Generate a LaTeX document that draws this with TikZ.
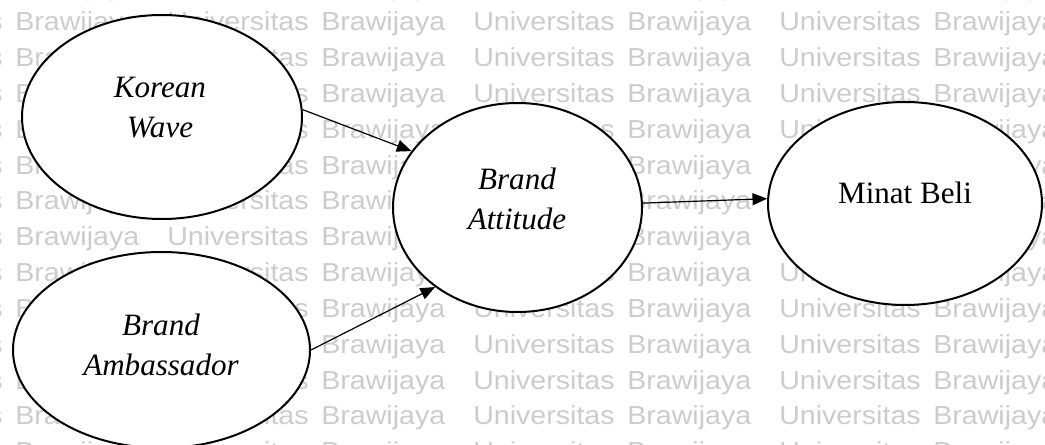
\documentclass[tikz,border=0pt]{standalone}
\usepackage{fontspec}
\setmainfont{Liberation Serif}
\newfontfamily\wmfont[FakeStretch=1.1]{Liberation Sans}
\usetikzlibrary{shapes.geometric,arrows.meta}
\tikzset{
  bubble/.style={ellipse,draw=black,line width=1.5pt,fill=white,inner sep=0pt},
  lbl/.style={font=\fontsize{23.3}{30}\selectfont,align=center,inner sep=0pt},
  wm/.style={font=\wmfont\fontsize{19.5}{20}\selectfont,text=black!20,anchor=base west,inner sep=0pt},
  arr/.style={line width=0.9pt,-{Triangle[length=11pt,width=9pt]}},
}
\begin{document}
\begin{tikzpicture}[x=0.75pt,y=-0.75pt]
\useasboundingbox (0,0) rectangle (1045,445);
\clip (0,0) rectangle (1045,445);
% watermark
\foreach \r in {-1,...,12}{
  \foreach \k in {0,1,2,3}{
    \node[wm] (u\r-\k) at ({779-306*\k},{31+35.8*\r}) {Universitas};
    \node[wm] (b\r-\k) at ({933-306*\k},{31+35.8*\r}) {Brawijaya};
  }
}
% ellipses
\node[bubble,minimum width=210pt,minimum height=153pt] (kw) at (162,117) {};
\node[bubble,minimum width=222.75pt,minimum height=147pt] (bam) at (161.5,350) {};
\node[bubble,minimum width=186.75pt,minimum height=156.75pt] (bat) at (517.5,207.5) {};
\node[bubble,minimum width=205.5pt,minimum height=152.25pt] (mb) at (905,203.5) {};
% labels
\node[lbl] (kwt) at (160,108) {\itshape Korean\\\itshape Wave};
\node[lbl] (bamt) at (161,345) {\itshape Brand\\\itshape Ambassador};
\node[lbl] (batt) at (517,199) {\itshape Brand\\\itshape Attitude};
\node[lbl] (mbt) at (905,193) {Minat Beli};
% arrows
\draw[arr] (kw.3.6) -- (bat.152.5);
\draw[arr] (bam.-0.7) -- (bat.224.7);
\draw[arr] (bat.2.5) -- (mb.178);
\end{tikzpicture}
\end{document}
